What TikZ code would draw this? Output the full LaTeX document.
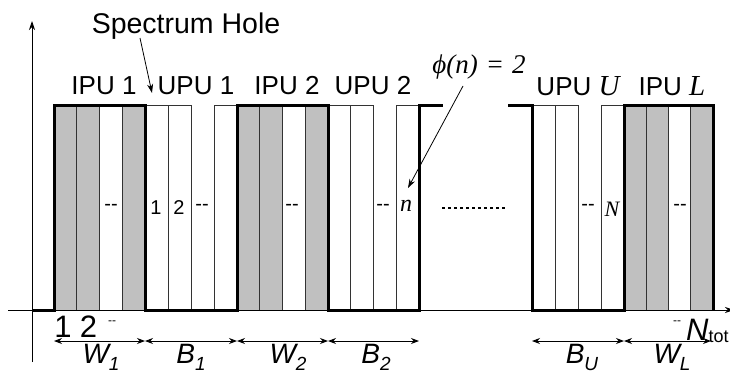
\documentclass[tikz,border=0pt]{standalone}
\usepackage{fontspec}
\setmainfont{Liberation Sans}
\newfontfamily\tms{Liberation Serif}
\usetikzlibrary{arrows.meta}
\definecolor{cg}{HTML}{C0C0C0}
\newcommand\mysub[1]{\raisebox{-7pt}{\fontsize{19}{19}\selectfont #1}}
\begin{document}
\begin{tikzpicture}[x=1pt,y=-1pt,
  thinln/.style={line width=0.9pt, draw=black!80},
  sig/.style={line width=3pt, line join=miter},
  axis/.style={line width=0.9pt, -{Stealth[length=9pt,width=6pt]}},
  dim/.style={line width=0.9pt, {Stealth[length=8pt,width=6pt]}-{Stealth[length=8pt,width=6pt]}},
  pointer/.style={line width=0.8pt, -{Stealth[length=9pt,width=6pt]}},
  toplbl/.style={inner sep=0pt, font=\fontsize{26}{30}\selectfont},
  collbl/.style={inner sep=0pt, font=\fontsize{20}{22}\selectfont},
  botlbl/.style={inner sep=0pt, anchor=base, font=\fontsize{28}{32}\selectfont\itshape}]
\useasboundingbox (0,0) rectangle (730,370);
% grey columns of IPU blocks
\foreach \x in {54,76.75,122.25, 237,259.75,305.25, 624,646.25,690.75}
  \fill[cg] (\x,105) rectangle ++(22.5,205);
% column dividers
\foreach \x in {76.75,99.5,122.25, 259.75,282.5,305.25, 646.25,668.5,690.75,
                168,191,214, 350,373,396, 555,578,601}
  \draw[thinln] (\x,105) -- (\x,310);
% thin top borders of UPU blocks
\draw[thinln] (145,105) -- (191,105) (214,105) -- (237,105);
\draw[thinln] (328,105) -- (373,105) (396,105) -- (419,105);
\draw[thinln] (532,105) -- (578,105) (601,105) -- (624,105);
% axes
\coordinate (yb) at (32,362); \coordinate (yt) at (32,21);
\coordinate (xl) at (8,310); \coordinate (xr) at (734,310);
\draw[axis] (yb) -- (yt);
\draw[axis] (xl) -- (xr);
% signal
\draw[sig] (32,310) -- (54,310) -- (54,105) -- (145,105) -- (145,310) -- (237,310)
  -- (237,105) -- (328,105) -- (328,310) -- (419,310) -- (419,105) -- (443,105);
\draw[sig] (508,105) -- (532,105) -- (532,310) -- (624,310) -- (624,105)
  -- (713,105) -- (713,310);
% dotted gap
\draw[line width=1.3pt, dash pattern=on 3pt off 3pt] (442,208) -- (507,208);
% top labels
\node[toplbl] (sh) at (186,26) {\fontsize{28.5}{30}\selectfont Spectrum Hole};
\node[toplbl] (i1) at (104,86) {IPU 1};
\node[toplbl] (u1) at (196,86) {UPU 1};
\node[toplbl] (i2) at (287,86) {IPU 2};
\node[toplbl] (u2) at (373,86) {UPU 2};
\node[toplbl] (uu) at (578,86) {UPU {\tms\itshape\fontsize{29}{30}\selectfont U}};
\node[toplbl] (il) at (672,86) {IPU {\tms\itshape\fontsize{29}{30}\selectfont L}};
\node[inner sep=0pt, font=\fontsize{27}{30}\selectfont\tms\itshape] (phi) at (479,67) {ϕ(n)\hspace{0.3em}=\hspace{0.3em}2};
\coordinate (hs) at (140,38); \coordinate (he) at (152,93);
\draw[pointer] (hs) -- (he);
\coordinate (ps) at (463,86); \coordinate (pe) at (408,188);
\draw[pointer] (ps) -- (pe);
% column labels
\node[collbl] (c1) at (111,207) {-{}-};
\node[collbl] (c2) at (156,208) {1};
\node[collbl] (c3) at (179,208) {2};
\node[collbl] (c4) at (202,207) {-{}-};
\node[collbl] (c5) at (292,207) {-{}-};
\node[collbl] (c6) at (383,207) {-{}-};
\node[inner sep=0pt, font=\fontsize{24}{26}\selectfont\tms\itshape] (c7) at (406,206) {n};
\node[collbl] (c8) at (588,207) {-{}-};
\node[inner sep=0pt, font=\fontsize{22}{26}\selectfont\tms\itshape] (c9) at (612,209) {N};
\node[collbl] (c11) at (680,207) {-{}-};
% bottom index labels
\node[inner sep=0pt, anchor=base, font=\fontsize{31}{34}\selectfont] (n1) at (63,337) {1};
\node[inner sep=0pt, anchor=base, font=\fontsize{31}{34}\selectfont] (n2) at (88.5,337) {2};
\node[inner sep=0pt, font=\fontsize{12}{14}\selectfont] (n3) at (112,323) {-{}-};
\node[inner sep=0pt, font=\fontsize{12}{14}\selectfont] (n4) at (677,323) {-{}-};
\node[inner sep=0pt, anchor=base west, font=\fontsize{31}{34}\selectfont] (nt) at (686,340) {\itshape N\raisebox{-2pt}{\fontsize{18}{18}\selectfont\upshape tot}};
% dimension arrows
\foreach \a/\b in {54/145,145/237,237/328,328/419,532/624,624/711}
  \draw[dim] (\a,341) -- (\b,341);
\node[botlbl] (w1) at (101,363) {W\mysub{1}};
\node[botlbl] (b1) at (191,363) {B\mysub{1}};
\node[botlbl] (w2) at (288,363) {W\mysub{2}};
\node[botlbl] (b2) at (376,363) {B\mysub{2}};
\node[botlbl] (bu) at (582,363) {B\mysub{U}};
\node[botlbl] (wl) at (672,363) {W\mysub{L}};
\end{tikzpicture}
\end{document}
